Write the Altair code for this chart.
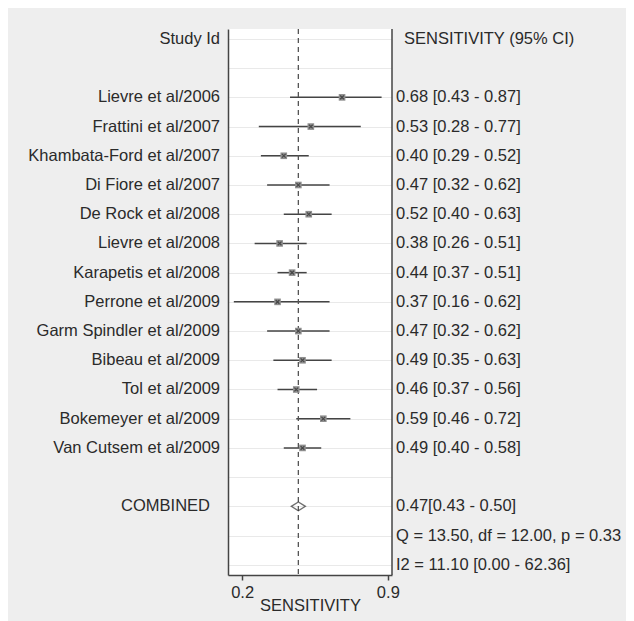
import altair as alt
import pandas as pd

# ---- data ----
studies = ["Lievre et al/2006", "Frattini et al/2007", "Khambata-Ford et al/2007",
           "Di Fiore et al/2007", "De Rock et al/2008", "Lievre et al/2008",
           "Karapetis et al/2008", "Perrone et al/2009", "Garm Spindler et al/2009",
           "Bibeau et al/2009", "Tol et al/2009", "Bokemeyer et al/2009",
           "Van Cutsem et al/2009"]
sens = [0.68, 0.53, 0.40, 0.47, 0.52, 0.38, 0.44, 0.37, 0.47, 0.49, 0.46, 0.59, 0.49]
lo   = [0.43, 0.28, 0.29, 0.32, 0.40, 0.26, 0.37, 0.16, 0.32, 0.35, 0.37, 0.46, 0.40]
hi   = [0.87, 0.77, 0.52, 0.62, 0.63, 0.51, 0.51, 0.62, 0.62, 0.63, 0.56, 0.72, 0.58]
pooled = [0.47]
pooled_lo = [0.43]
pooled_hi = [0.50]
het_lines = ["Q = 13.50, df = 12.00, p =  0.33", "I2 = 11.10 [0.00 - 62.36]"]
x_ticks = [0.2, 0.9]
left_header = "Study Id"
right_header = "SENSITIVITY (95% CI)"
combined_label = "COMBINED"
x_title = "SENSITIVITY"

# ---- layout / style ----
W, H = 164, 546
FONT = "Liberation Sans"
TXT = "#2a2a2a"
LINE = "#444444"
FS = 16.5

first_row = 2
rows = list(range(first_row, first_row + len(studies)))
comb_row = rows[-1] + 2
n_rows = comb_row + len(het_lines) + 1

df = pd.DataFrame({"study": studies, "sens": sens, "lo": lo, "hi": hi, "row": rows})
df["label"] = [f"{s:.2f} [{l:.2f} - {h:.2f}]" for s, l, h in zip(sens, lo, hi)]

comb = pd.DataFrame({"sens": pooled, "lo": pooled_lo, "hi": pooled_hi, "row": [comb_row],
                     "name": [combined_label]})
comb["label"] = [f"{s:.2f}[{l:.2f} - {h:.2f}]" for s, l, h in zip(pooled, pooled_lo, pooled_hi)]

het = pd.DataFrame({"label": het_lines, "row": [comb_row + 1 + i for i in range(len(het_lines))]})
hdr = pd.DataFrame({"left": [left_header], "right": [right_header], "row": [0]})

xs = alt.Scale(domain=[0.132, 0.92], nice=False, zero=False)
ys = alt.Scale(domain=[-0.34, n_rows - 1 + 0.35], reverse=True, nice=False, zero=False)

x_axis = alt.Axis(values=x_ticks, format=".1f", grid=False, tickSize=5, tickColor=LINE,
                  tickWidth=1.5, domainColor=LINE, domainWidth=1.5, labelFont=FONT,
                  labelFontSize=FS, labelColor=TXT, labelPadding=4, title=x_title,
                  titleFont=FONT, titleFontSize=FS, titleFontWeight="normal",
                  titleColor=TXT, titleY=30, titleBaseline="middle")
y_axis = alt.Axis(values=list(range(n_rows)), grid=True, gridColor="#e9e9e9", gridWidth=1,
                  labels=False, ticks=False, domain=True, domainColor=LINE, domainWidth=1.5,
                  title=None)

Y = alt.Y("row:Q", scale=ys, axis=y_axis)

ci = alt.Chart(df).mark_rule(color=LINE, strokeWidth=1.5).encode(
    x=alt.X("lo:Q", scale=xs, axis=x_axis), x2="hi:Q", y=Y)

ref = alt.Chart(comb).mark_rule(color="#555555", strokeWidth=1.3, strokeDash=[5, 4]).encode(
    x=alt.X("sens:Q", scale=xs, axis=x_axis))

right_border = alt.Chart(hdr).mark_rule(color=LINE, strokeWidth=1.5).encode(
    x=alt.value(W), y=alt.value(0), y2=alt.value(H))

sq = alt.Chart(df).mark_square(size=44, color="#8f8f8f", opacity=1).encode(
    x=alt.X("sens:Q", scale=xs, axis=x_axis), y=Y)
cross = alt.Chart(df).mark_point(shape="M-1,-1L1,1M-1,1L1,-1", size=14, color="#2a2a2a",
                                 strokeWidth=1.2, filled=False).encode(
    x=alt.X("sens:Q", scale=xs, axis=x_axis), y=Y)

diamond = alt.Chart(comb).mark_point(shape="M-1,0L0,-0.62L1,0L0,0.62Z", size=200,
                                     filled=False, color="#333333", strokeWidth=1.3).encode(
    x=alt.X("sens:Q", scale=xs, axis=x_axis), y=Y)

txt = dict(font=FONT, fontSize=FS, color=TXT, baseline="middle")

left_txt = alt.Chart(df).mark_text(align="right", **txt).encode(
    x=alt.value(-8), y=Y, text="study:N")
left_hdr = alt.Chart(hdr).mark_text(align="right", **txt).encode(
    x=alt.value(-8), y=Y, text="left:N")
comb_txt = alt.Chart(comb).mark_text(align="right", **txt).encode(
    x=alt.value(-18), y=Y, text="name:N")

right_txt = alt.Chart(df).mark_text(align="left", **txt).encode(
    x=alt.value(W + 4), y=Y, text="label:N")
right_hdr = alt.Chart(hdr).mark_text(align="left", **txt).encode(
    x=alt.value(W + 12), y=Y, text="right:N")
comb_rtxt = alt.Chart(comb).mark_text(align="left", **txt).encode(
    x=alt.value(W + 4), y=Y, text="label:N")
het_txt = alt.Chart(het).mark_text(align="left", **txt).encode(
    x=alt.value(W + 4), y=Y, text="label:N")

chart = alt.layer(
    ci, ref, right_border, sq, cross, diamond,
    left_txt, left_hdr, comb_txt, right_txt, right_hdr, comb_rtxt, het_txt
).properties(
    width=W, height=H,
    padding={"left": 220, "top": 21, "right": 234, "bottom": 46},
    autosize=alt.AutoSizeParams(type="none"),
    background="#eeeeee",
).configure_view(stroke=None, fill="white")

chart.save("out.html", embed_options={"renderer": "svg", "actions": False})
